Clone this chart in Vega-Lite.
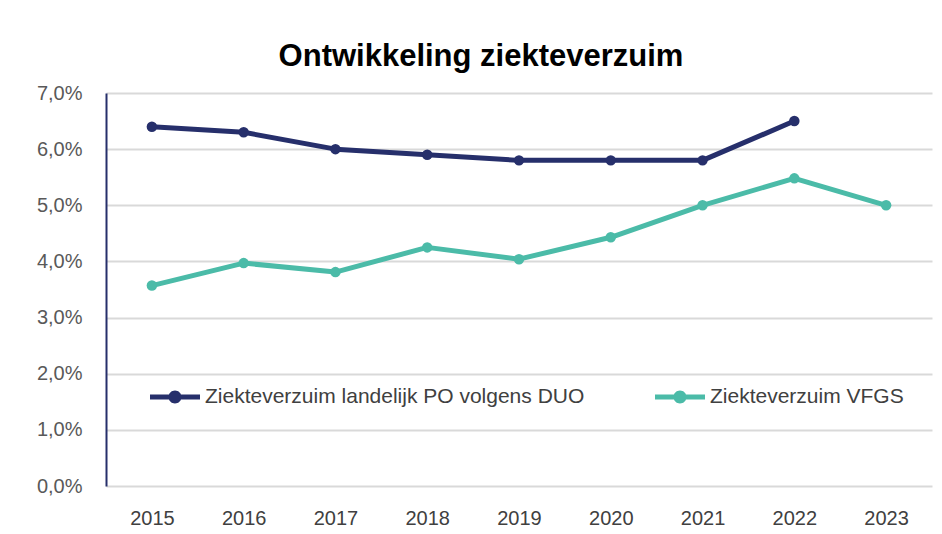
{
  "$schema": "https://vega.github.io/schema/vega-lite/v6.json",
  "autosize": {"type": "none"},
  "width": 826,
  "height": 393,
  "padding": {"left": 106, "top": 93, "right": 10, "bottom": 48},
  "background": "white",
  "title": {
    "text": "Ontwikkeling ziekteverzuim",
    "font": "Liberation Sans",
    "fontSize": 31,
    "fontWeight": "bold",
    "color": "#000000",
    "anchor": "middle",
    "dx": -38,
    "offset": 10
  },
  "data": {
    "values": [
      {"jaar": "2015", "reeks": "Ziekteverzuim landelijk PO volgens DUO", "pct": 6.4},
      {"jaar": "2016", "reeks": "Ziekteverzuim landelijk PO volgens DUO", "pct": 6.3},
      {"jaar": "2017", "reeks": "Ziekteverzuim landelijk PO volgens DUO", "pct": 6.0},
      {"jaar": "2018", "reeks": "Ziekteverzuim landelijk PO volgens DUO", "pct": 5.9},
      {"jaar": "2019", "reeks": "Ziekteverzuim landelijk PO volgens DUO", "pct": 5.8},
      {"jaar": "2020", "reeks": "Ziekteverzuim landelijk PO volgens DUO", "pct": 5.8},
      {"jaar": "2021", "reeks": "Ziekteverzuim landelijk PO volgens DUO", "pct": 5.8},
      {"jaar": "2022", "reeks": "Ziekteverzuim landelijk PO volgens DUO", "pct": 6.5},
      {"jaar": "2015", "reeks": "Ziekteverzuim VFGS", "pct": 3.57},
      {"jaar": "2016", "reeks": "Ziekteverzuim VFGS", "pct": 3.97},
      {"jaar": "2017", "reeks": "Ziekteverzuim VFGS", "pct": 3.81},
      {"jaar": "2018", "reeks": "Ziekteverzuim VFGS", "pct": 4.25},
      {"jaar": "2019", "reeks": "Ziekteverzuim VFGS", "pct": 4.04},
      {"jaar": "2020", "reeks": "Ziekteverzuim VFGS", "pct": 4.43},
      {"jaar": "2021", "reeks": "Ziekteverzuim VFGS", "pct": 5.0},
      {"jaar": "2022", "reeks": "Ziekteverzuim VFGS", "pct": 5.48},
      {"jaar": "2023", "reeks": "Ziekteverzuim VFGS", "pct": 5.0}
    ]
  },
  "encoding": {
    "x": {
      "field": "jaar",
      "type": "ordinal",
      "title": null,
      "scale": {"paddingInner": 0, "paddingOuter": 0.5},
      "axis": {
        "domain": false,
        "ticks": false,
        "grid": false,
        "labelAngle": 0,
        "labelFont": "Liberation Sans",
        "labelFontSize": 20,
        "labelColor": "#404040",
        "labelPadding": 22
      }
    },
    "y": {
      "field": "pct",
      "type": "quantitative",
      "title": null,
      "scale": {"domain": [0, 7], "nice": false},
      "axis": {
        "values": [0, 1, 2, 3, 4, 5, 6, 7],
        "labelExpr": "replace(format(datum.value, '.1f'), '.', ',') + '%'",
        "domain": true,
        "domainColor": "#262F6B",
        "domainWidth": 2,
        "ticks": false,
        "grid": true,
        "gridColor": "#D9D9D9",
        "gridWidth": 2,
        "labelFont": "Liberation Sans",
        "labelFontSize": 20,
        "labelColor": "#595959",
        "labelPadding": 24
      }
    },
    "color": {
      "field": "reeks",
      "type": "nominal",
      "sort": ["Ziekteverzuim landelijk PO volgens DUO", "Ziekteverzuim VFGS"],
      "scale": {
        "domain": ["Ziekteverzuim landelijk PO volgens DUO", "Ziekteverzuim VFGS"],
        "range": ["#262F6B", "#4BBBA8"]
      },
      "legend": {
        "title": null,
        "orient": "none",
        "direction": "horizontal",
        "legendX": 44,
        "legendY": 279,
        "padding": 0,
        "columnPadding": 70,
        "labelOffset": 5,
        "labelLimit": 600,
        "labelFont": "Liberation Sans",
        "labelFontSize": 21,
        "labelColor": "#404040",
        "symbolType": "M-1,-0.1H1V0.1H-1Z M0.26,0A0.26,0.26,0,1,1,-0.26,0A0.26,0.26,0,1,1,0.26,0Z",
        "symbolSize": 2500,
        "symbolStrokeWidth": 0,
        "encode": {
          "symbols": {
            "update": {
              "fill": {"scale": "color", "field": "value"},
              "fillOpacity": {"value": 1},
              "strokeWidth": {"value": 0}
            }
          }
        }
      }
    }
  },
  "layer": [
    {"mark": {"type": "line", "strokeWidth": 5, "strokeCap": "round", "strokeJoin": "round"}},
    {"mark": {"type": "point", "filled": true, "opacity": 1, "size": 110}}
  ],
  "config": {"view": {"stroke": null}}
}
